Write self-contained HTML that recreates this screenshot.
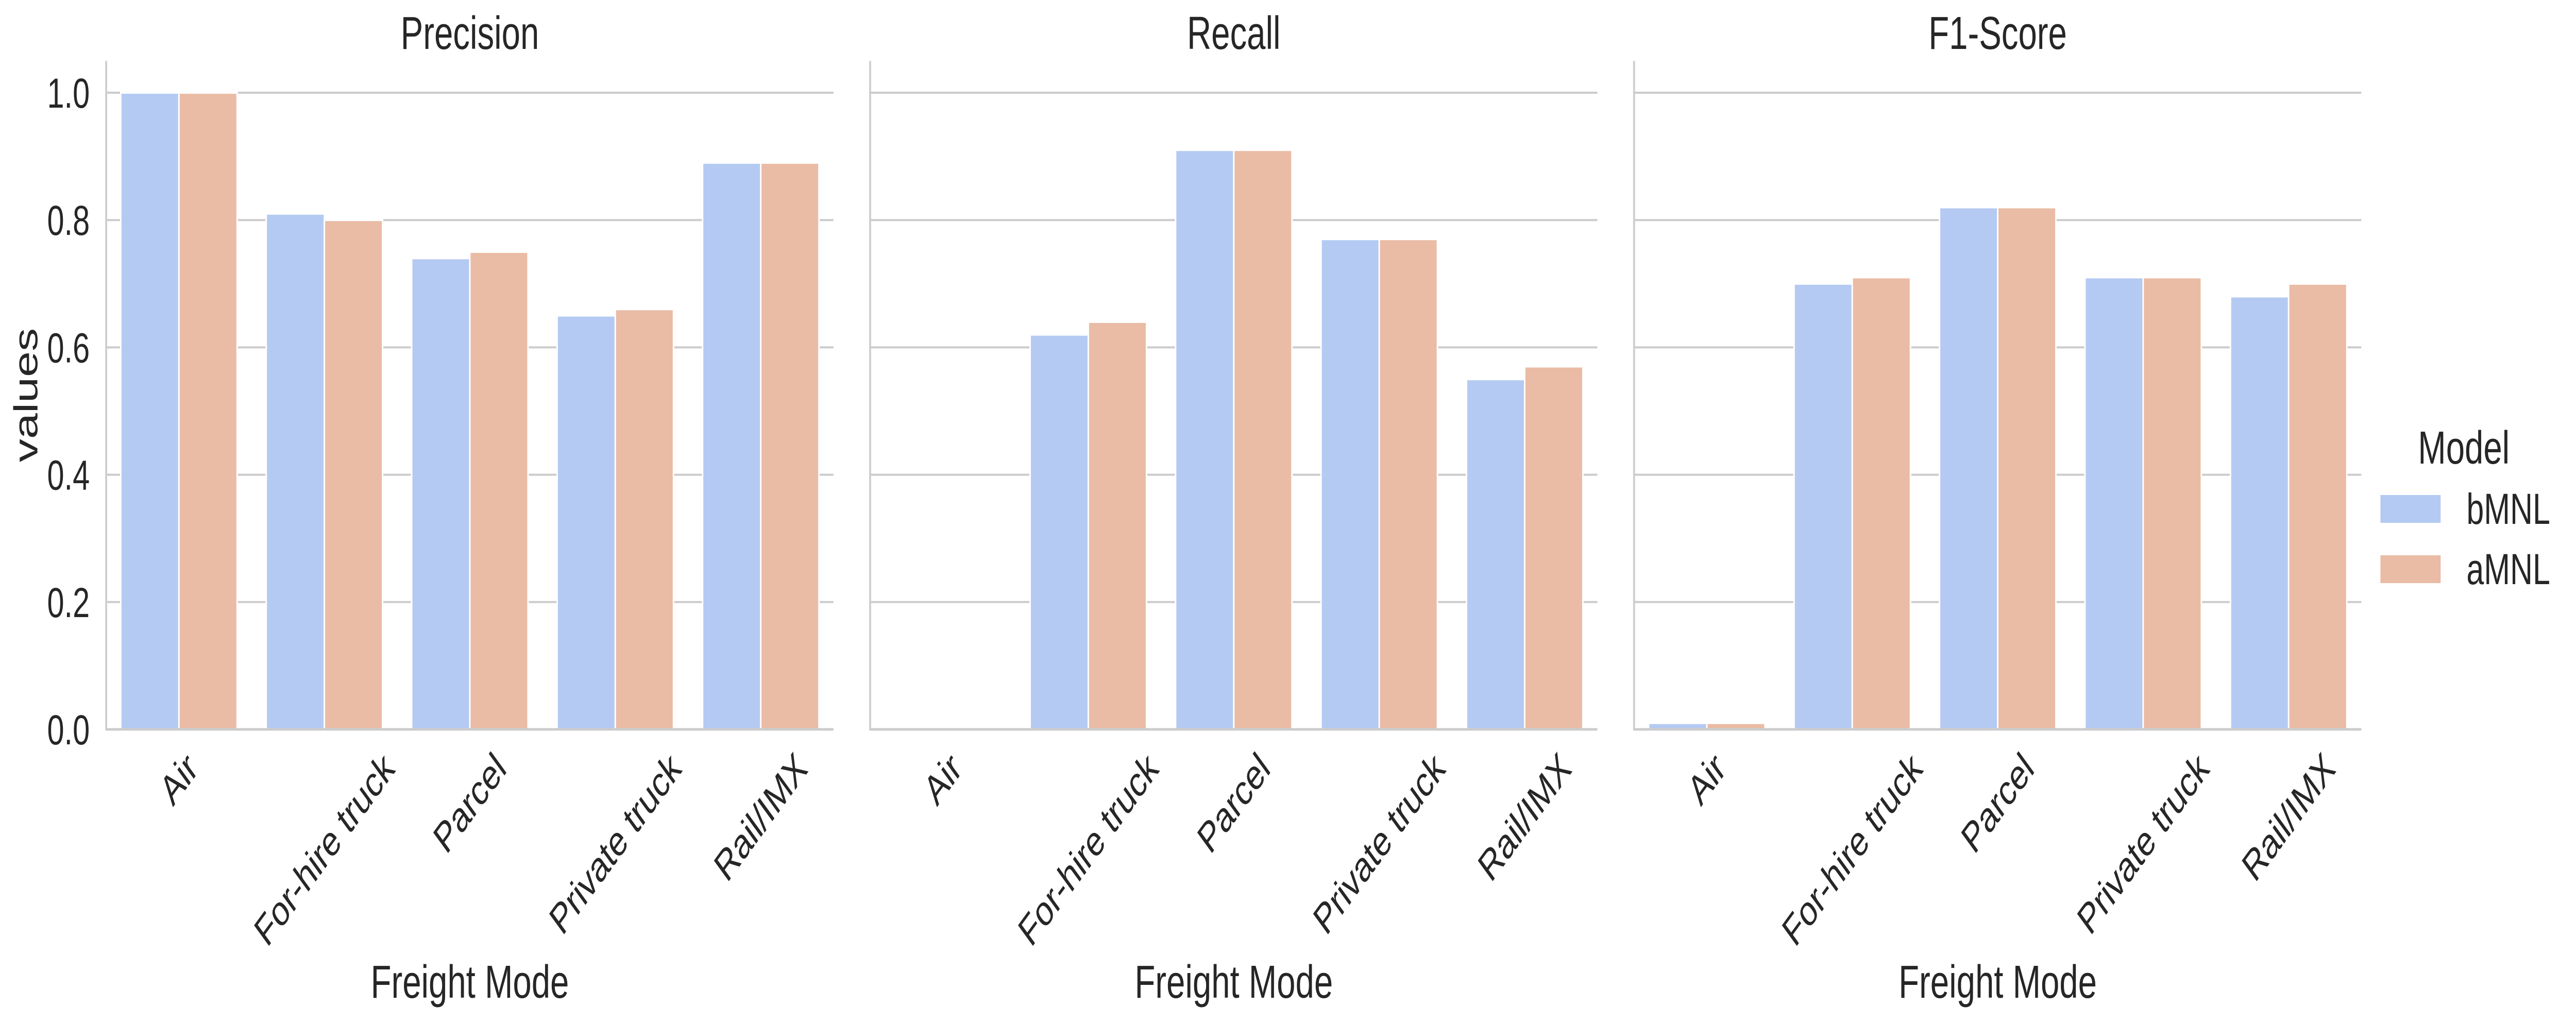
<!DOCTYPE html>
<html><head><meta charset="utf-8"><style>
html,body{margin:0;padding:0;background:#fff;width:100%;height:100%;overflow:hidden}
svg{display:block;width:100vw;height:100vh}
text{font-family:"Liberation Sans",Arial,sans-serif;fill:#262626}
</style></head><body>
<svg id="chart" viewBox="0 0 6889 1986" preserveAspectRatio="none" xmlns="http://www.w3.org/2000/svg">
<g id="legend">
<text x="6589" y="900" font-size="90" text-anchor="middle">Model</text>
<rect x="6366" y="961" width="161" height="54" fill="#b4caf2"/>
<text x="6596" y="1017" font-size="84">bMNL</text>
<rect x="6366" y="1078" width="161" height="54" fill="#eabba5"/>
<text x="6596" y="1134" font-size="84">aMNL</text>
</g>
</svg>
<script>
const categories = ["Air","For-hire truck","Parcel","Private truck","Rail/IMX"];
const panelTitles = ["Precision","Recall","F1-Score"];
const seriesNames = ["bMNL","aMNL"];
const precisionB = [1.00,0.81,0.74,0.65,0.89];
const precisionA = [1.00,0.80,0.75,0.66,0.89];
const recallB = [0.00,0.62,0.91,0.77,0.55];
const recallA = [0.00,0.64,0.91,0.77,0.57];
const f1B = [0.01,0.70,0.82,0.71,0.68];
const f1A = [0.01,0.71,0.82,0.71,0.70];
const yTicks = [0.0,0.2,0.4,0.6,0.8,1.0];
const yTickLabels = ["0.0","0.2","0.4","0.6","0.8","1.0"];

const panelData = [[precisionB,precisionA],[recallB,recallA],[f1B,f1A]];
const colors = ["#b4caf2","#eabba5"];
const NS = "http://www.w3.org/2000/svg";
const svg = document.getElementById('chart');
const legend = document.getElementById('legend');
const panelLeft0 = 284, panelStep = 2043, panelW = 1945;
const yBase = 1416, yUnit = 1236, yMax = 1.05;
function yScale(v){ return yBase - v*yUnit; }
function mk(tag, attrs, parent){
  const e = document.createElementNS(NS, tag);
  for (const k in attrs) e.setAttribute(k, attrs[k]);
  parent.appendChild(e);
  return e;
}
panelData.forEach((series, p) => {
  const left = panelLeft0 + p*panelStep;
  const unit = panelW / categories.length;
  const xScale = i => left + (i + 0.5)*unit;
  const g = mk('g', {}, svg);
  
  
  svg.insertBefore(g, legend);
  yTicks.forEach((t, k) => {
    if (t === 0) return;
    const gl = mk('line', {x1:left, x2:left+panelW, y1:yScale(t), y2:yScale(t), stroke:'#cccccc', 'stroke-width':4}, g);
    
    
    if (p === 0) {
      const tl = mk('text', {x:left-44, y:yScale(t)+29, 'font-size':82, 'text-anchor':'end'}, g);
      tl.textContent = yTickLabels[k];
      
      
    }
  });
  if (p === 0) {
    const tl = mk('text', {x:left-44, y:yScale(0)+29, 'font-size':82, 'text-anchor':'end'}, g);
    tl.textContent = yTickLabels[0];
    
    
    const yl = mk('text', {x:0, y:0, 'font-size':90, 'text-anchor':'middle', transform:'translate(100,767) rotate(-90)'}, g);
    yl.textContent = 'values';
    
    
  }
  series.forEach((vals, s) => {
    vals.forEach((v, i) => {
      const bw = unit*0.4;
      const x = xScale(i) - unit*0.4 + s*bw;
      const b = mk('rect', {x:x, y:yScale(v), width:bw, height:yBase - yScale(v), fill:colors[s], stroke:'#ffffff', 'stroke-width':4}, g);
      
      
    });
  });
  const sl = mk('line', {x1:left, x2:left, y1:yScale(yMax), y2:yBase+2, stroke:'#cccccc', 'stroke-width':5}, g);
  
  
  const sb = mk('line', {x1:left-2, x2:left+panelW, y1:yBase, y2:yBase, stroke:'#cccccc', 'stroke-width':5}, g);
  
  
  const tt = mk('text', {x:left+panelW/2, y:95, 'font-size':90, 'text-anchor':'middle'}, g);
  tt.textContent = panelTitles[p];
  
  
  const xl = mk('text', {x:left+panelW/2, y:1937, 'font-size':90, 'text-anchor':'middle'}, g);
  xl.textContent = 'Freight Mode';
  
  
  categories.forEach((c, i) => {
    const t = mk('text', {x:0, y:0, 'font-size':82, 'text-anchor':'middle', 'dominant-baseline':'central'}, g);
    t.textContent = c;
    
    
    const L = t.getComputedTextLength();
    const h = 82;
    const bboxH = (L + h) * Math.SQRT1_2;
    const cy = 1448 + bboxH/2;
    t.setAttribute('transform', 'translate(' + xScale(i) + ',' + cy + ') rotate(-45)');
  });
});
</script>
</body></html>
